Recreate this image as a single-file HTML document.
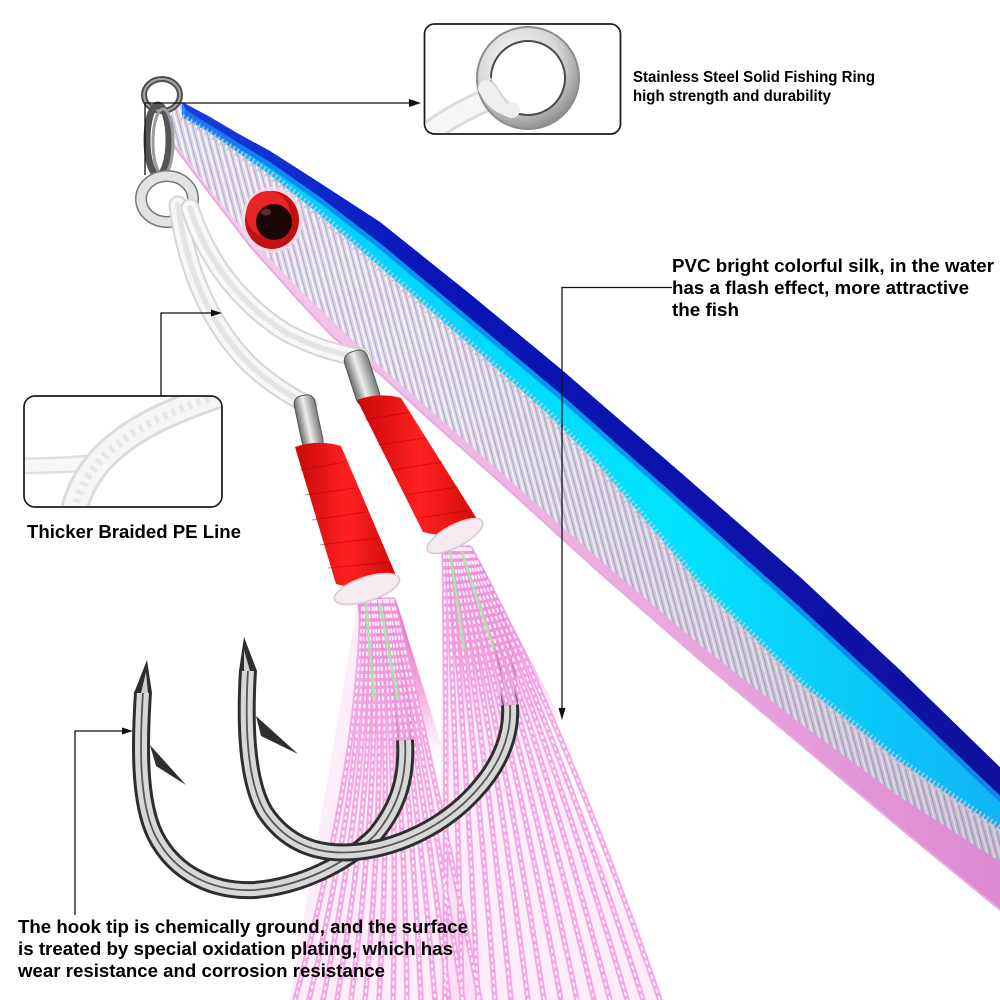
<!DOCTYPE html>
<html><head><meta charset="utf-8">
<style>
html,body{margin:0;padding:0;background:#fff;}
svg{display:block;}
text{font-family:"Liberation Sans",Arial,sans-serif;font-weight:bold;fill:#000;}
</style></head><body>
<svg width="1000" height="1000" viewBox="0 0 1000 1000" xmlns="http://www.w3.org/2000/svg">
<defs>
  <pattern id="silv" patternUnits="userSpaceOnUse" width="6" height="80" patternTransform="rotate(-15)">
    <rect width="6" height="80" fill="#ddd3e7"/>
    <rect x="0" width="1.6" height="80" fill="#fdf8ff"/>
    <rect x="3" width="1" height="80" fill="#b2a8c0"/>
    <rect x="4.6" y="10" width="0.9" height="40" fill="#cce6da"/>
  </pattern>
  <linearGradient id="cyanG" gradientUnits="userSpaceOnUse" x1="180" y1="0" x2="1000" y2="0">
    <stop offset="0" stop-color="#2a8cff"/>
    <stop offset="0.15" stop-color="#00d0ff"/>
    <stop offset="0.6" stop-color="#00e4ff"/>
    <stop offset="1" stop-color="#12b4f6"/>
  </linearGradient>
  <linearGradient id="navyG" gradientUnits="userSpaceOnUse" x1="180" y1="0" x2="1000" y2="0">
    <stop offset="0" stop-color="#1a3ee0"/>
    <stop offset="0.3" stop-color="#0a14b8"/>
    <stop offset="1" stop-color="#10129c"/>
  </linearGradient>
  <linearGradient id="pinkG" gradientUnits="userSpaceOnUse" x1="180" y1="0" x2="1000" y2="0">
    <stop offset="0" stop-color="#f4cdea"/>
    <stop offset="0.5" stop-color="#ecb0e2"/>
    <stop offset="1" stop-color="#dc8ad2"/>
  </linearGradient>
  <linearGradient id="darkTail" gradientUnits="userSpaceOnUse" x1="400" y1="0" x2="1000" y2="0">
    <stop offset="0" stop-color="#50406a" stop-opacity="0"/>
    <stop offset="1" stop-color="#50406a" stop-opacity="0.2"/>
  </linearGradient>
  <linearGradient id="shankG" x1="0" y1="0" x2="1" y2="0">
    <stop offset="0" stop-color="#6c6c6c"/>
    <stop offset="0.45" stop-color="#eeeeee"/>
    <stop offset="1" stop-color="#7a7a7a"/>
  </linearGradient>
  <linearGradient id="redG" x1="0" y1="0" x2="1" y2="0">
    <stop offset="0" stop-color="#c80808"/>
    <stop offset="0.5" stop-color="#ff2020"/>
    <stop offset="1" stop-color="#d00a0a"/>
  </linearGradient>
  <radialGradient id="ringG" cx="0.4" cy="0.35" r="0.7">
    <stop offset="0" stop-color="#ffffff"/>
    <stop offset="0.6" stop-color="#d6d6d6"/>
    <stop offset="1" stop-color="#8a8a8a"/>
  </radialGradient>
  <linearGradient id="bundleG" x1="0" y1="0" x2="0" y2="1">
    <stop offset="0" stop-color="#e2409f" stop-opacity="0.85"/>
    <stop offset="0.6" stop-color="#ec6fc8" stop-opacity="0.55"/>
    <stop offset="1" stop-color="#f3a3e3" stop-opacity="0"/>
  </linearGradient>
  <clipPath id="clipTop"><rect x="425" y="25" width="195" height="108" rx="10"/></clipPath>
  <clipPath id="clipPE"><rect x="25" y="397" width="196" height="109" rx="10"/></clipPath>

  <g id="sk1">
    <path d="M362,600 Q360,760 295,1000"/>
    <path d="M364,600 Q366,760 309,1000"/>
    <path d="M367,600 Q371,760 323,1000"/>
    <path d="M369,600 Q377,760 337,1000"/>
    <path d="M372,600 Q382,760 351,1000"/>
    <path d="M374,600 Q388,760 365,1000"/>
    <path d="M376,600 Q393,760 379,1000"/>
    <path d="M379,600 Q399,760 393,1000"/>
    <path d="M381,600 Q404,760 407,1000"/>
    <path d="M384,600 Q410,760 421,1000"/>
    <path d="M386,600 Q415,760 435,1000"/>
    <path d="M388,600 Q421,760 449,1000"/>
    <path d="M391,600 Q426,760 463,1000"/>
    <path d="M393,600 Q432,760 480,1000"/>
  </g>
  <g id="sk2">
    <path d="M444,548 Q447,720 445,1000"/>
    <path d="M446,548 Q456,720 462,1000"/>
    <path d="M448,548 Q465,720 478,1000"/>
    <path d="M450,548 Q474,720 495,1000"/>
    <path d="M452,548 Q483,720 511,1000"/>
    <path d="M454,548 Q492,720 528,1000"/>
    <path d="M456,548 Q500,720 544,1000"/>
    <path d="M458,548 Q509,720 561,1000"/>
    <path d="M460,548 Q518,720 577,1000"/>
    <path d="M462,548 Q527,720 594,1000"/>
    <path d="M464,548 Q536,720 610,1000"/>
    <path d="M466,548 Q545,720 627,1000"/>
    <path d="M468,548 Q554,720 643,1000"/>
    <path d="M470,548 Q563,720 660,1000"/>
  </g>
</defs>

<rect width="1000" height="1000" fill="#fff"/>

<!-- ===== LURE BODY ===== -->
<path fill="url(#pinkG)" d="M182,102 L210,117 L237,133 L270,151 L320,183 L380,222 L470,294 L562,370 L680,472 L800,577 L900,670 L1010,777 L1010,918 L900,828 L800,744 L700,660 L600,573 L500,482 L430,420 L380,374 L333,337 L300,302 L250,246 L210,194 L171,142 L168,128 L172,112 Z"/>
<path fill="url(#silv)" d="M182,102 L210,117 L237,133 L270,151 L320,183 L380,222 L470,294 L562,370 L680,472 L800,577 L900,670 L1010,777 L1010,868 L900,797 L800,723 L700,645 L600,560 L470,445 L380,366 L300,290 L250,238 L210,190 L174,142 L168,128 L172,112 Z"/>
<path fill="url(#darkTail)" d="M400,240 L1010,777 L1010,868 L900,797 L800,723 L700,645 L600,560 L470,445 L400,385 Z"/>
<path fill="url(#cyanG)" d="M182,102 L210,117 L237,133 L270,151 L320,183 L380,222 L470,294 L562,370 L680,472 L800,577 L900,670 L1010,777 L1010,836 L900,762 L800,683 L700,585 L600,467 L547,413 L470,345 L380,267 L320,215 L270,175 L237,152 L210,133 L182,117 Z"/>
<polyline fill="none" stroke="#cbc2d8" stroke-width="9" stroke-dasharray="1.6 3" points="182,117 210,133 237,152 270,175 320,215 380,267 470,345 547,413 600,467 700,585 800,683 900,762 1010,836"/>
<polyline fill="none" stroke="#0a66e6" stroke-width="10" opacity="0.6" points="186,110 210,125 237,142 270,162 320,197 380,243 470,318 562,395 680,500 800,607 900,700 1010,805"/>
<path fill="url(#navyG)" d="M182,102 L210,117 L237,133 L270,151 L320,183 L380,222 L470,294 L562,370 L680,472 L800,577 L900,670 L1010,777 L1010,805 L900,700 L800,607 L680,500 L562,395 L470,318 L380,243 L320,197 L270,162 L237,142 L210,125 L186,110 Z"/>
<polyline fill="none" stroke="#e8a8de" stroke-width="2" points="1010,918 900,828 800,744 700,660 600,573 500,482 430,420 380,374 333,337 300,302 250,246 210,194 171,142"/>

<!-- eye -->
<ellipse cx="272" cy="220" rx="31" ry="33" fill="#f1dbe9" opacity="0.8"/>
<ellipse cx="272" cy="220" rx="27" ry="29" fill="#c41010"/>
<ellipse cx="268" cy="214" rx="22" ry="23" fill="#e82424"/>
<circle cx="274" cy="222" r="18" fill="#1a0606"/>
<ellipse cx="266" cy="212" rx="5" ry="3.5" fill="#6a3a3a" opacity="0.8"/>

<!-- ===== RINGS ===== -->
<ellipse cx="162" cy="95" rx="18" ry="16" fill="none" stroke="#4e4e4e" stroke-width="6"/>
<ellipse cx="162" cy="95" rx="18" ry="16" fill="none" stroke="#a8a8a8" stroke-width="2"/>
<ellipse cx="158" cy="140" rx="11" ry="35" fill="none" stroke="#555" stroke-width="7"/>
<ellipse cx="163" cy="142" rx="10" ry="33" fill="none" stroke="#9c9c9c" stroke-width="3"/>
<ellipse cx="167" cy="199" rx="26" ry="23" fill="none" stroke="#777" stroke-width="12"/>
<ellipse cx="167" cy="199" rx="26" ry="23" fill="none" stroke="#e2e2e2" stroke-width="9"/>

<!-- ===== ROPE ===== -->
<g fill="none" stroke-linecap="round">
  <path d="M178,205 C185,260 205,320 250,365 C275,388 295,398 308,405" stroke="#d6d6d6" stroke-width="19"/>
  <path d="M178,205 C185,260 205,320 250,365 C275,388 295,398 308,405" stroke="#f6f6f6" stroke-width="15"/>
  <path d="M190,208 C205,255 235,300 285,332 C315,348 340,354 362,358" stroke="#d6d6d6" stroke-width="19"/>
  <path d="M190,208 C205,255 235,300 285,332 C315,348 340,354 362,358" stroke="#f7f7f7" stroke-width="15"/>
  <path d="M178,205 C185,260 205,320 250,365 C275,388 295,398 308,405" stroke="#e4e4e4" stroke-width="6" stroke-dasharray="3 4"/>
  <path d="M190,208 C205,255 235,300 285,332 C315,348 340,354 362,358" stroke="#e4e4e4" stroke-width="6" stroke-dasharray="3 4"/>
</g>

<!-- hook upper shanks (under skirts) -->
<g fill="none" stroke-linecap="butt">
  <path d="M405,745 C402,690 392,640 370,595" stroke="#333" stroke-width="17"/>
  <path d="M405,745 C402,690 392,640 370,595" stroke="#d4d4d4" stroke-width="11"/>
  <path d="M510,710 C508,650 495,600 462,550" stroke="#333" stroke-width="17"/>
  <path d="M510,710 C508,650 495,600 462,550" stroke="#d4d4d4" stroke-width="11"/>
</g>

<!-- ===== SKIRTS ===== -->
<path d="M358,600 L396,600 L482,1000 L290,1000 Z" fill="#f7c4ec" opacity="0.3"/>
<path d="M442,548 L472,548 L662,1000 L440,1000 Z" fill="#f7c4ec" opacity="0.3"/>
<path d="M358,600 L396,600 L446,760 L366,760 Z" fill="url(#bundleG)"/>
<path d="M442,548 L472,548 L566,728 L462,728 Z" fill="url(#bundleG)"/>
<g fill="none" stroke-linecap="round">
  <g stroke="#f29be0" stroke-width="5.5" opacity="0.85">
    <use href="#sk1"/><use href="#sk2"/>
  </g>
  <g stroke="#ffffff" stroke-width="2" stroke-dasharray="2.5 5" opacity="0.85">
    <use href="#sk1"/><use href="#sk2"/>
  </g>
</g>
<g fill="none" stroke="#a6e8a8" stroke-width="3" opacity="0.85">
  <path d="M366,604 L374,700"/><path d="M380,604 L398,700"/>
  <path d="M450,552 L464,650"/><path d="M462,552 L494,650"/>
</g>

<!-- ===== RED WRAPS, COLLARS, SHANK TOPS ===== -->
<g transform="rotate(-12 308 422)">
  <rect x="298" y="395" width="21" height="55" rx="8" fill="url(#shankG)" stroke="#555" stroke-width="1"/>
</g>
<g transform="rotate(-18 362 378)">
  <rect x="350" y="350" width="24" height="56" rx="9" fill="url(#shankG)" stroke="#555" stroke-width="1"/>
</g>
<path d="M295,447 Q318,439 341,446 L398,580 Q367,593 336,584 Z" fill="url(#redG)"/>
<path d="M357,400 Q379,392 401,398 L482,527 Q452,540 423,532 Z" fill="url(#redG)"/>
<g stroke="#a00" stroke-width="1" opacity="0.5">
  <path d="M300,470 L345,462"/><path d="M305,495 L356,488"/><path d="M312,520 L366,512"/><path d="M320,545 L378,538"/><path d="M328,568 L390,562"/>
  <path d="M365,420 L410,412"/><path d="M378,445 L425,438"/><path d="M392,470 L442,462"/><path d="M405,495 L458,487"/><path d="M418,518 L472,510"/>
</g>
<ellipse cx="367" cy="589" rx="34" ry="12" transform="rotate(-18 367 589)" fill="#f4eaf0" stroke="#d8c8d0" stroke-width="1.5"/>
<ellipse cx="455" cy="536" rx="31" ry="11" transform="rotate(-28 455 536)" fill="#f4eaf0" stroke="#d8c8d0" stroke-width="1.5"/>

<!-- ===== HOOKS ===== -->
<g fill="none" stroke-linecap="butt">
  <path d="M143,692 C140,740 138,800 155,835 C175,875 215,892 255,890 C300,886 345,865 375,835 C400,805 407,775 405,740" stroke="#2e2e2e" stroke-width="18"/>
  <path d="M143,692 C140,740 138,800 155,835 C175,875 215,892 255,890 C300,886 345,865 375,835 C400,805 407,775 405,740" stroke="#d8d8d8" stroke-width="12"/>
  <path d="M143,692 C140,740 138,800 155,835 C175,875 215,892 255,890 C300,886 345,865 375,835 C400,805 407,775 405,740" stroke="#555" stroke-width="1.8"/>
  <path d="M248,670 C245,720 246,780 265,812 C288,846 320,855 355,852 C400,848 445,825 475,792 C500,765 512,735 510,705" stroke="#2e2e2e" stroke-width="18"/>
  <path d="M248,670 C245,720 246,780 265,812 C288,846 320,855 355,852 C400,848 445,825 475,792 C500,765 512,735 510,705" stroke="#d8d8d8" stroke-width="12"/>
  <path d="M248,670 C245,720 246,780 265,812 C288,846 320,855 355,852 C400,848 445,825 475,792 C500,765 512,735 510,705" stroke="#555" stroke-width="1.8"/>
</g>
<!-- tips -->
<path d="M147,660 L152,693 L134,693 Z" fill="#2e2e2e"/>
<path d="M146,672 L148,693 L141,693 Z" fill="#cfcfcf"/>
<path d="M244,637 L257,671 L239,671 Z" fill="#2e2e2e"/>
<path d="M244,650 L250,671 L244,671 Z" fill="#cfcfcf"/>
<!-- barbs -->
<path d="M150,745 L186,785 L156,766 Z" fill="#2e2e2e"/>
<path d="M256,716 L298,754 L261,736 Z" fill="#2e2e2e"/>

<!-- ===== CALLOUT BOXES ===== -->
<rect x="424.5" y="24" width="196" height="110" rx="10" fill="#fff" stroke="#1a1a1a" stroke-width="1.5"/>
<g clip-path="url(#clipTop)">
  <path d="M418,142 C440,122 470,106 505,92" fill="none" stroke="#dcdcdc" stroke-width="24" stroke-linecap="round"/>
  <path d="M418,142 C440,122 470,106 505,92" fill="none" stroke="#f6f6f6" stroke-width="18" stroke-linecap="round"/>
  <circle cx="528" cy="78" r="52" fill="#8c8c8c"/>
  <circle cx="528" cy="78" r="50" fill="url(#ringG)"/>
  <circle cx="528" cy="78" r="38" fill="#4a4a4a"/>
  <circle cx="528" cy="78" r="36" fill="#fff"/>
  <path d="M486,88 C492,100 500,106 512,110" fill="none" stroke="#eeeeee" stroke-width="16" stroke-linecap="round"/>
  <path d="M490,78 L508,104" fill="none" stroke="#d8d8d8" stroke-width="2"/>
</g>
<rect x="424.5" y="24" width="196" height="110" rx="10" fill="none" stroke="#1a1a1a" stroke-width="1.5"/>

<rect x="24" y="396" width="198" height="111" rx="11" fill="#fff" stroke="#1a1a1a" stroke-width="1.5"/>
<g clip-path="url(#clipPE)">
  <path d="M10,466 C40,466 70,465 100,462" fill="none" stroke="#e0e0e0" stroke-width="17"/>
  <path d="M10,466 C40,466 70,465 100,462" fill="none" stroke="#f7f7f7" stroke-width="12"/>
  <path d="M72,520 C80,470 115,440 160,418 C190,404 215,396 240,388" fill="none" stroke="#dcdcdc" stroke-width="28"/>
  <path d="M72,520 C80,470 115,440 160,418 C190,404 215,396 240,388" fill="none" stroke="#f6f6f6" stroke-width="22"/>
  <path d="M72,520 C80,470 115,440 160,418 C190,404 215,396 240,388" fill="none" stroke="#e6e6e6" stroke-width="8" stroke-dasharray="4 5"/>
</g>
<rect x="24" y="396" width="198" height="111" rx="11" fill="none" stroke="#1a1a1a" stroke-width="1.5"/>

<!-- ===== LEADER LINES ===== -->
<g fill="none" stroke="#111" stroke-width="1.3">
  <path d="M145,175 V103 H410"/>
  <path d="M161,396 V313 H212"/>
  <path d="M75,915 V731 H123"/>
  <path d="M672,287.5 H562 V709"/>
</g>
<g fill="#111">
  <path d="M421,103 L409,99 L409,107 Z"/>
  <path d="M222,313 L211,309.5 L211,316.5 Z"/>
  <path d="M133,731 L122,727.5 L122,734.5 Z"/>
  <path d="M562,720 L558.5,708 L565.5,708 Z"/>
</g>

<!-- ===== TEXT ===== -->
<text x="633" y="82" font-size="16" textLength="242" lengthAdjust="spacingAndGlyphs">Stainless Steel Solid Fishing Ring</text>
<text x="633" y="101" font-size="16" textLength="198" lengthAdjust="spacingAndGlyphs">high strength and durability</text>

<text x="672" y="272" font-size="18" textLength="322" lengthAdjust="spacingAndGlyphs">PVC bright colorful silk, in the water</text>
<text x="672" y="294" font-size="18" textLength="297" lengthAdjust="spacingAndGlyphs">has a flash effect, more attractive</text>
<text x="672" y="316" font-size="18" textLength="67" lengthAdjust="spacingAndGlyphs">the fish</text>

<text x="27" y="538" font-size="18" textLength="214" lengthAdjust="spacingAndGlyphs">Thicker Braided PE Line</text>

<text x="18" y="933" font-size="18" textLength="450" lengthAdjust="spacingAndGlyphs">The hook tip is chemically ground, and the surface</text>
<text x="18" y="955" font-size="18" textLength="435" lengthAdjust="spacingAndGlyphs">is treated by special oxidation plating, which has</text>
<text x="18" y="977" font-size="18" textLength="367" lengthAdjust="spacingAndGlyphs">wear resistance and corrosion resistance</text>
</svg>
</body></html>
